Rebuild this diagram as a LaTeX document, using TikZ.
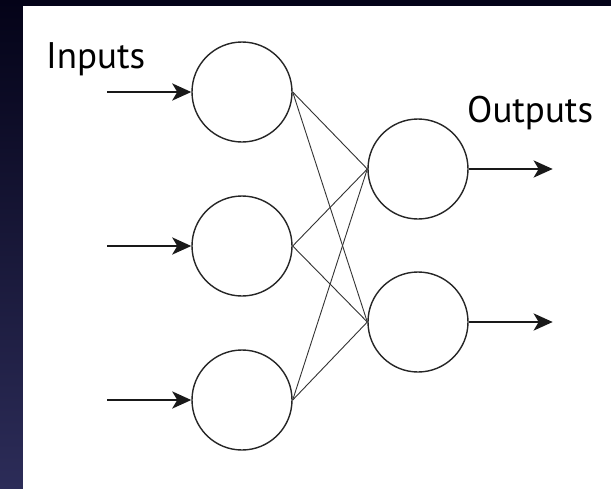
\documentclass[tikz,border=0pt]{standalone}
\usepackage{fontspec}
\setmainfont{PT Sans}
\usetikzlibrary{arrows.meta}

\definecolor{bgtop}{RGB}{4,3,24}
\definecolor{bgbot}{RGB}{44,44,88}

\begin{document}
\begin{tikzpicture}[x=1pt, y=-1pt,
  neuron/.style={draw=black!85, line width=1.4pt, circle, minimum size=100pt, inner sep=0pt},
  link/.style={draw=black!80, line width=0.9pt},
  flow/.style={draw=black!90, line width=2.8pt, -{Stealth[length=19pt, width=17pt, inset=5pt]}},
  lbl/.style={font=\fontsize{37}{40}\selectfont, inner sep=0pt, anchor=base west}]
  \useasboundingbox (0,0) rectangle (611,488);
  % background and white sheet
  \shade[top color=bgtop, bottom color=bgbot] (0,0) rectangle (611,488);
  \fill[white] (23,6) rectangle (612,489);
  % input layer, r=50
  \node[neuron] (in1) at (242, 92) {};
  \node[neuron] (in2) at (242,246) {};
  \node[neuron] (in3) at (242,400) {};
  % output layer
  \node[neuron] (out1) at (418,169) {};
  \node[neuron] (out2) at (418,322) {};
  % connections
  \foreach \i in {1,2,3}
    \foreach \o in {1,2}
      \draw[link] (in\i.east) -- (out\o.west);
  % input arrows
  \foreach \i in {1,2,3} {
    \coordinate (src\i) at ([xshift=-84pt]in\i.west);
    \draw[flow] (src\i) -- (in\i.west);
  }
  % output arrows
  \foreach \o in {1,2} {
    \coordinate (dst\o) at ([xshift=84pt]out\o.east);
    \draw[flow] (out\o.east) -- (dst\o);
  }
  \node[lbl] (inlbl) at (46,68) {Inputs};
  \node[lbl] (outlbl) at (467,122) {Outputs};
\end{tikzpicture}
\end{document}
